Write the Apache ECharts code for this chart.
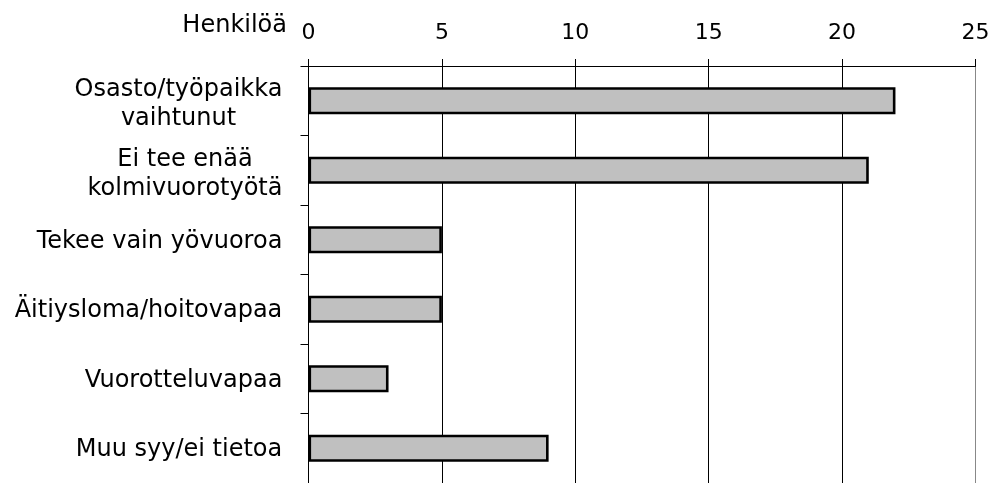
<!DOCTYPE html>
<html>
<head>
<meta charset="utf-8">
<script src="https://cdn.jsdelivr.net/npm/echarts@6/dist/echarts.min.js"></script>
<style>html,body{margin:0;padding:0;background:#fff}#c{width:996px;height:483px}</style>
</head>
<body>
<div id="c"></div>
<script>
const categories = ['Osasto/työpaikka\nvaihtunut', 'Ei tee enää\nkolmivuorotyötä', 'Tekee vain yövuoroa', 'Äitiysloma/hoitovapaa', 'Vuorotteluvapaa', 'Muu syy/ei tietoa'];
const values = [22, 21, 5, 5, 3, 9];
const axisName = 'Henkilöä';
const xTicks = [0, 5, 10, 15, 20, 25];

const FONT = 'DejaVu Sans';
const LABEL_SIZE = 24;

// measure label lines so multi-line labels can be centered within their block
const ctx = document.createElement('canvas').getContext('2d');
ctx.font = LABEL_SIZE + 'px "' + FONT + '"';
const rich = {};
categories.forEach((c, i) => {
  const w = Math.max(...c.split('\n').map(s => ctx.measureText(s).width));
  rich['c' + i] = {fontFamily: FONT, fontSize: LABEL_SIZE, color: '#000', width: Math.ceil(w), align: 'center', lineHeight: 29};
});

const chart = echarts.init(document.getElementById('c'), null, {renderer: 'canvas'});
chart.setOption({
  animation: false,
  backgroundColor: '#fff',
  title: {
    text: axisName, right: 709, top: 14, padding: 0,
    textStyle: {fontFamily: FONT, fontSize: LABEL_SIZE, fontWeight: 'normal', color: '#000'}
  },
  grid: {left: 308.5, right: 20.5, top: 66, bottom: -2, containLabel: false},
  xAxis: {
    type: 'value', position: 'top', min: xTicks[0], max: xTicks[xTicks.length - 1], interval: 5,
    axisLine: {show: true, lineStyle: {color: '#000', width: 1}},
    axisTick: {show: true, length: 7, lineStyle: {color: '#000'}},
    axisLabel: {fontFamily: FONT, fontSize: 22, color: '#000', margin: 22},
    splitLine: {show: true, lineStyle: {color: ['#000', '#000', '#000', '#000', '#000', '#888'], width: 1}}
  },
  yAxis: {
    type: 'category', inverse: true,
    data: categories.map(c => ({value: c, textStyle: {padding: c.indexOf('\n') >= 0 ? [8, 0, 0, 0] : [4, 0, 0, 0]}})),
    axisLine: {show: true, lineStyle: {color: '#000', width: 1}},
    axisTick: {show: true, length: 8, lineStyle: {color: '#000'}},
    axisLabel: {
      fontFamily: FONT, fontSize: LABEL_SIZE, color: '#000', margin: 26, lineHeight: 29, align: 'right',
      formatter: (val, idx) => val.split('\n').map(s => '{c' + idx + '|' + s + '}').join('\n'),
      rich: rich
    }
  },
  series: [{
    type: 'bar', data: values, barWidth: 27,
    itemStyle: {color: '#c0c0c0', borderColor: '#000', borderWidth: 2.6}
  }]
});
</script>
</body>
</html>
